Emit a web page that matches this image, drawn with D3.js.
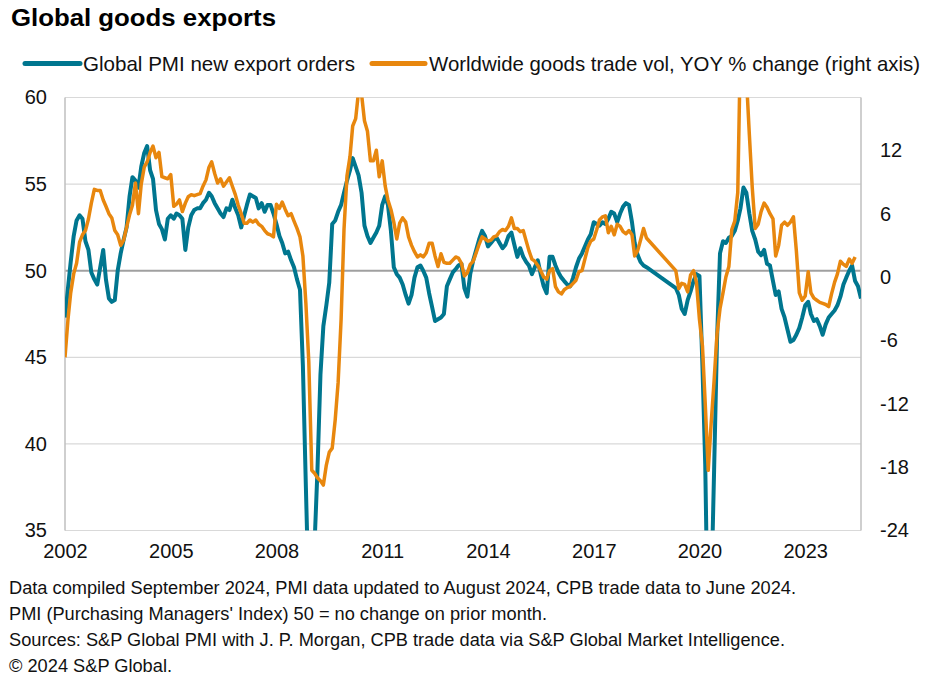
<!DOCTYPE html>
<html>
<head>
<meta charset="utf-8">
<script src="https://cdn.jsdelivr.net/npm/d3@7/dist/d3.min.js"></script>
<style>
  html, body { margin: 0; padding: 0; background: #fff; }
  svg { display: block; font-family: "Liberation Sans", Arial, sans-serif; }
</style>
</head>
<body>
<svg id="chart" width="939" height="685"></svg>
<script>
// ---------- DATA ----------
const startYear = 2002;               // monthly series start Jan 2002
const xTickYears = [2002, 2005, 2008, 2011, 2014, 2017, 2020, 2023];
const leftTicks = [35, 40, 45, 50, 55, 60];
const rightTicks = [-24, -18, -12, -6, 0, 6, 12];
const seriesNames = ["Global PMI new export orders", "Worldwide goods trade vol, YOY % change (right axis)"];

// Global PMI new export orders (Jan 2002 - Aug 2024), null = no plotted value
const pmi = [
  47.3, 49.0, 50.5, 52.0, 52.9, 53.2, 53.0, 51.7, 51.2, 49.9, 49.5, 49.2, // 2002
  50.2, 51.2, 49.5, 48.4, 48.2, 48.3, 50.0, 51.0, 51.8, 52.5, 54.3, 55.4, // 2003
  55.2, 54.8, 56.0, 56.8, 57.2, 55.8, 55.3, 53.5, 52.7, 52.4, 51.8, 53.0, // 2004
  53.2, 53.0, 53.3, 53.2, 53.0, 51.2, 52.5, 53.2, 53.5, 53.6, 53.6, 53.9, // 2005
  54.1, 54.5, 54.3, 53.9, 53.6, 53.3, 53.1, 53.6, 53.5, 54.1, 53.6, 53.2, // 2006
  52.5, 53.2, 53.8, 54.4, 54.3, 54.2, 53.6, 53.9, 53.4, 53.8, 53.8, 53.3, // 2007
  52.7, 52.0, 51.6, 51.0, 51.1, 50.6, 50.2, 49.5, 48.9, 44.5, 37.5, 31.0, // 2008
  31.5, 34.5, 38.5, 44.0, 46.8, 48.0, 49.3, 52.7, 52.9, 53.4, 53.8, 54.5, // 2009
  55.2, 55.8, 56.5, 56.0, 55.5, 54.5, 52.6, 52.0, 51.6, 51.9, 52.2, 52.6, // 2010
  53.8, 54.3, 53.8, 52.3, 50.2, 49.8, 49.6, 49.2, 48.6, 48.1, 48.6, 49.6, // 2011
  50.2, 50.3, 50.0, 49.6, 48.7, 47.9, 47.1, 47.2, 47.3, 47.5, 49.1, 49.5, // 2012
  49.9, 50.1, 50.3, 50.4, 49.0, 48.5, 49.8, 50.6, 51.2, 51.8, 52.3, 52.0, // 2013
  51.4, 51.6, 51.8, 51.9, 51.6, 51.3, 51.5, 52.0, 52.2, 51.5, 50.8, 51.3, // 2014
  50.8, 50.5, 50.3, 49.8, 50.2, 50.6, 49.8, 49.1, 48.7, 50.8, 50.8, 50.3, // 2015
  49.9, 49.6, 49.4, 49.2, 49.1, 49.6, 50.2, 50.7, 51.0, 51.4, 51.8, 52.1, // 2016
  52.8, 52.7, 52.6, 52.8, 52.7, 53.0, 53.4, 53.3, 52.8, 53.3, 53.7, 53.9, // 2017
  53.8, 52.8, 51.6, 50.9, 50.5, 50.3, 50.2, null, null, null, null, null, // 2018
  null, null, null, null, 49.0, 48.6, 47.8, 47.5, 48.3, 48.8, 49.4, 49.8, // 2019
  49.7, 44.5, 38.8, 28.0, 31.0, 38.5, 46.0, 51.0, 51.7, 51.6, 51.9, 52.0, // 2020
  52.3, 52.9, 53.6, 54.8, 54.5, 53.3, 52.3, 51.8, 51.1, 50.9, 51.2, 50.4, // 2021
  50.3, 49.4, 48.6, 48.8, 47.8, 47.3, 46.6, 45.9, 46.0, 46.3, 46.7, 47.3, // 2022
  48.0, 48.2, 47.5, 47.1, 47.2, 46.8, 46.3, 46.9, 47.3, 47.5, 47.7, 48.0, // 2023
  48.5, 49.2, 49.6, 50.0, 50.3, 49.4, 49.1, 48.4                          // 2024
];

// Worldwide goods trade volume, YoY % change (Jan 2002 - Jun 2024)
const trade = [
  -7.6, -4.0, -1.5, 0.3, 1.3, 3.3, 4.0, 4.4, 5.5, 7.0, 8.3, 8.2,          // 2002
  8.2, 7.3, 6.7, 6.0, 5.6, 4.4, 4.0, 3.0, 3.5, 4.7, 5.9, 6.8,             // 2003
  8.9, 6.0, 8.8, 10.4, 10.9, 11.8, 12.4, 11.3, 11.8, 9.5, 9.4, 9.3,       // 2004
  9.7, 6.7, 6.9, 7.3, 6.2, 7.0, 7.6, 7.8, 7.7, 7.8, 7.9, 8.6,             // 2005
  9.2, 10.4, 10.9, 9.8, 8.9, 9.3, 8.6, 9.0, 9.4, 8.6, 7.8, 6.8,           // 2006
  6.0, 5.1, 5.1, 5.4, 5.2, 5.4, 5.0, 4.8, 4.4, 4.1, 4.0, 3.8,             // 2007
  6.9, 6.5, 7.1, 6.4, 5.8, 6.0, 5.3, 4.6, 3.8, 2.0, -2.5, -8.0,           // 2008
  -18.3, -18.6, -19.0, -19.3, -19.7, -17.8, -16.6, -16.2, -13.5, -10.0, -4.0, 4.5, // 2009
  9.6, 11.4, 14.3, 15.0, 17.6, 17.3, 14.8, 13.8, 11.0, 11.0, 12.0, 9.5,   // 2010
  11.0, 8.6, 7.3, 6.4, 5.2, 3.6, 5.1, 5.6, 5.2, 3.8, 3.0, 2.4,            // 2011
  1.9, 2.1, 1.9, 2.3, 3.2, 3.2, 2.0, 1.0, 2.2, 1.4, 1.3, 1.3,             // 2012
  1.6, 1.9, 1.8, 1.3, 0.1, 0.4, 1.2, 1.5, 2.3, 3.1, 3.8, 3.6,             // 2013
  3.4, 3.5, 3.8, 3.9, 4.3, 4.5, 4.4, 4.8, 5.6, 4.6, 4.6, 4.3,             // 2014
  4.4, 3.4, 2.5, 1.7, 1.5, 1.1, 0.6, 0.0, -0.2, 0.6, 0.8, -0.9,           // 2015
  -1.4, -1.6, -1.2, -1.0, -0.9, -0.6, -0.3, 0.5, 0.6, 1.7, 2.8, 3.4,      // 2016
  3.6, 4.5, 5.4, 5.7, 5.8, 4.2, 4.8, 4.0, 5.0, 4.8, 4.3, 4.1,             // 2017
  4.4, 4.0, 2.0, 2.5, 3.5, 4.6, 3.7, null, null, null, null, null,        // 2018
  null, null, null, null, 0.6, -1.1, -0.6, -0.7, -1.4, 0.2, 0.6, -0.5,    // 2019
  -4.0, -6.5, -12.0, -18.3, -13.9, -9.8, -5.4, -3.0, -1.5, 0.0, 1.0, 4.5, // 2020
  5.3, 8.0, 22.0, 25.0, 19.0, 13.5, 8.5, 4.6, 5.0, 6.2, 7.0, 6.6,         // 2021
  6.0, 5.5, 2.0, 3.0, 4.9, 5.2, 4.9, 5.2, 5.7, 2.5, -1.5, -2.2,           // 2022
  -1.8, 0.5, -1.5, -2.0, -2.2, -2.4, -2.5, -2.6, -2.8, -1.6, -0.5, 0.3,   // 2023
  1.5, 1.2, 1.0, 1.7, 1.3, 1.9                                            // 2024
];

const footnotes = [
  "Data compiled September 2024, PMI data updated to August 2024, CPB trade data to June 2024.",
  "PMI (Purchasing Managers' Index) 50 = no change on prior month.",
  "Sources: S&P Global PMI with J. P. Morgan, CPB trade data via S&P Global Market Intelligence.",
  "\u00A9 2024 S&P Global."
];

// ---------- LAYOUT ----------
const colors = { pmi: "#00768F", trade: "#E8870E" };
const plot = { left: 65, right: 861, top: 97.5, bottom: 530.5 };
const monthDate = i => new Date(Date.UTC(startYear, i, 1));

const svg = d3.select("#chart");

const x = d3.scaleUtc()
  .domain([monthDate(0), monthDate(pmi.length - 1)])
  .range([plot.left, plot.right]);
const yL = d3.scaleLinear().domain([35, 60]).range([plot.bottom, plot.top]);
const yR = d3.scaleLinear().domain([-24, 17]).range([plot.bottom, plot.top]);

// title
svg.append("text")
  .attr("x", 11).attr("y", 26)
  .attr("font-size", 23).attr("font-weight", "bold")
  .attr("textLength", 265).attr("lengthAdjust", "spacingAndGlyphs")
  .attr("fill", "#000")
  .text("Global goods exports");

// legend
const legend = [
  { name: seriesNames[0], color: colors.pmi, x1: 25, x2: 80, tx: 83, w: 272 },
  { name: seriesNames[1], color: colors.trade, x1: 372, x2: 425, tx: 429, w: 491 }
];
legend.forEach(l => {
  svg.append("line")
    .attr("x1", l.x1).attr("x2", l.x2).attr("y1", 63.5).attr("y2", 63.5)
    .attr("stroke", l.color).attr("stroke-width", 5).attr("stroke-linecap", "round");
  svg.append("text")
    .attr("x", l.tx).attr("y", 71)
    .attr("font-size", 20.4).attr("fill", "#111")
    .attr("textLength", l.w).attr("lengthAdjust", "spacingAndGlyphs")
    .text(l.name);
});

// gridlines
svg.append("g").selectAll("line")
  .data(leftTicks)
  .join("line")
  .attr("x1", plot.left).attr("x2", plot.right)
  .attr("y1", d => yL(d)).attr("y2", d => yL(d))
  .attr("stroke", d => d === 50 ? "#a0a0a0" : "#d9d9d9")
  .attr("stroke-width", d => d === 50 ? 2 : 1.2);

// vertical axis lines
[plot.left, plot.right].forEach(px => {
  svg.append("line")
    .attr("x1", px).attr("x2", px).attr("y1", plot.top).attr("y2", plot.bottom)
    .attr("stroke", "#bfbfbf").attr("stroke-width", 1.5);
});

// axes (labels only)
const styleAxis = g => {
  g.select(".domain").remove();
  g.selectAll(".tick line").remove();
  g.selectAll("text").attr("font-size", 20).attr("fill", "#111")
    .attr("font-family", "Liberation Sans, Arial, sans-serif");
};
svg.append("g")
  .attr("transform", `translate(${plot.left},0)`)
  .call(d3.axisLeft(yL).tickValues(leftTicks).tickSize(0).tickPadding(18).tickFormat(d => String(d)))
  .call(styleAxis);
svg.append("g")
  .attr("transform", `translate(${plot.right},0)`)
  .call(d3.axisRight(yR).tickValues(rightTicks).tickSize(0).tickPadding(19).tickFormat(d => String(d)))
  .call(styleAxis);
svg.append("g")
  .attr("transform", `translate(0,${plot.bottom})`)
  .call(d3.axisBottom(x).tickValues(xTickYears.map(yr => new Date(Date.UTC(yr, 0, 1))))
    .tickSize(0).tickPadding(13).tickFormat(d3.utcFormat("%Y")))
  .call(styleAxis);

// clip
svg.append("defs").append("clipPath").attr("id", "plotClip")
  .append("rect")
  .attr("x", plot.left).attr("y", plot.top)
  .attr("width", plot.right - plot.left).attr("height", plot.bottom - plot.top);

const pmiPts = pmi.map((v, i) => ({ d: monthDate(i), v })).filter(p => p.v !== null);
const tradePts = trade.map((v, i) => ({ d: monthDate(i), v })).filter(p => p.v !== null);

const lines = svg.append("g").attr("clip-path", "url(#plotClip)");
lines.append("path")
  .datum(pmiPts)
  .attr("fill", "none").attr("stroke", colors.pmi).attr("stroke-width", 4)
  .attr("stroke-linejoin", "round")
  .attr("d", d3.line().x(p => x(p.d)).y(p => yL(p.v)));
lines.append("path")
  .datum(tradePts)
  .attr("fill", "none").attr("stroke", colors.trade).attr("stroke-width", 3.5)
  .attr("stroke-linejoin", "round")
  .attr("d", d3.line().x(p => x(p.d)).y(p => yR(p.v)));

// footnotes
const fnWidths = [787, 538, 776, 163];
footnotes.forEach((t, i) => {
  svg.append("text")
    .attr("x", 9).attr("y", 594 + i * 26)
    .attr("font-size", 17.5).attr("fill", "#111")
    .attr("font-family", "'Liberation Sans Narrow', 'Liberation Sans', Arial, sans-serif")
    .attr("textLength", fnWidths[i]).attr("lengthAdjust", "spacingAndGlyphs")
    .text(t);
});
</script>
</body>
</html>
